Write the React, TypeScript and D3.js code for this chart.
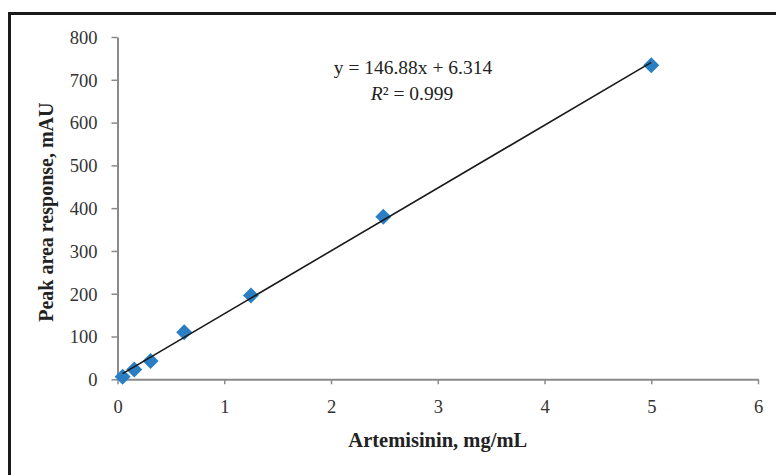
import React, { useEffect, useRef } from 'react';
import * as d3 from 'd3';

// calibration data
const concentrations = [0.048, 0.157, 0.31, 0.625, 1.25, 2.49, 5];
const responses = [6, 23, 43, 110, 196, 380, 734];
const xTicks = [0, 1, 2, 3, 4, 5, 6];
const yTicks = [0, 100, 200, 300, 400, 500, 600, 700, 800];
const slope = 146.88;
const intercept = 6.314;
const equationText = 'y = 146.88x + 6.314';
const r2Text = ' = 0.999';

const FONT = '"Liberation Serif", "Times New Roman", serif';

const CalibrationChart = () => {
  const svgRef = useRef<SVGSVGElement | null>(null);

  useEffect(() => {
    const width = 776;
    const height = 475;
    const svg = d3.select(svgRef.current).attr('width', width).attr('height', height);
    svg.selectAll('*').remove();

    const x = d3.scaleLinear().domain([0, 6]).range([117.5, 758]);
    const y = d3.scaleLinear().domain([0, 800]).range([379.3, 37]);

    // outer frame (runs past the right and bottom edges)
    svg.append('rect')
      .attr('x', 9.5)
      .attr('y', 13.5)
      .attr('width', 820)
      .attr('height', 520)
      .attr('fill', 'white')
      .attr('stroke', '#1a1a1a')
      .attr('stroke-width', 3);

    const axisColor = '#8a8a8a';

    // x axis
    const xAxis = svg.append('g').attr('transform', `translate(0,${y(0)})`)
      .call(d3.axisBottom(x).tickValues(xTicks).tickSize(5).tickSizeOuter(0).tickFormat(d3.format('d')));
    xAxis.select('.domain').attr('stroke', axisColor).attr('stroke-width', 2);
    xAxis.selectAll('.tick line').attr('stroke', axisColor).attr('stroke-width', 1.5);
    xAxis.selectAll('.tick text')
      .attr('y', 34)
      .attr('dy', null)
      .attr('font-family', FONT)
      .attr('font-size', 18.5)
      .attr('fill', '#333');

    // y axis
    const yAxis = svg.append('g').attr('transform', `translate(${x(0)},0)`)
      .call(d3.axisLeft(y).tickValues(yTicks).tickSize(6).tickSizeOuter(0).tickFormat(d3.format('d')));
    yAxis.select('.domain').attr('stroke', axisColor).attr('stroke-width', 2);
    yAxis.selectAll('.tick line').attr('stroke', axisColor).attr('stroke-width', 1.5);
    yAxis.selectAll('.tick text')
      .attr('x', -20)
      .attr('dy', '0.34em')
      .attr('font-family', FONT)
      .attr('font-size', 18.5)
      .attr('fill', '#333');

    // diamond markers
    const diamond = d3.symbol().type(d3.symbolSquare).size(128);
    svg.selectAll('path.point')
      .data(concentrations.map((c, i) => ({ c, r: responses[i] })))
      .enter()
      .append('path')
      .attr('class', 'point')
      .attr('d', diamond)
      .attr('transform', d => `translate(${x(d.c)},${y(d.r)}) rotate(45)`)
      .attr('fill', '#2a7fc4');

    // linear trendline, drawn over the markers
    const xMin = d3.min(concentrations) as number;
    const xMax = d3.max(concentrations) as number;
    svg.append('line')
      .attr('x1', x(xMin))
      .attr('y1', y(slope * xMin + intercept))
      .attr('x2', x(xMax))
      .attr('y2', y(slope * xMax + intercept))
      .attr('stroke', '#1a1a1a')
      .attr('stroke-width', 1.6);

    // equation
    svg.append('text')
      .attr('x', 413)
      .attr('y', 74)
      .attr('text-anchor', 'middle')
      .attr('font-family', FONT)
      .attr('font-size', 19.5)
      .attr('fill', '#222')
      .text(equationText);

    const r2 = svg.append('text')
      .attr('x', 412)
      .attr('y', 100)
      .attr('text-anchor', 'middle')
      .attr('font-family', FONT)
      .attr('font-size', 19.5)
      .attr('fill', '#222');
    r2.append('tspan').attr('font-style', 'italic').text('R');
    r2.append('tspan').text('²' + r2Text);

    // axis titles
    svg.append('text')
      .attr('x', (x(0) + x(6)) / 2)
      .attr('y', 447)
      .attr('text-anchor', 'middle')
      .attr('font-family', FONT)
      .attr('font-weight', 'bold')
      .attr('font-size', 20.5)
      .attr('fill', '#222')
      .text('Artemisinin, mg/mL');

    svg.append('text')
      .attr('transform', `translate(53,${(y(0) + y(800)) / 2 + 4}) rotate(-90)`)
      .attr('text-anchor', 'middle')
      .attr('font-family', FONT)
      .attr('font-weight', 'bold')
      .attr('font-size', 20)
      .attr('fill', '#222')
      .text('Peak area response, mAU');
  }, []);

  return (
    <svg ref={svgRef} style={{ position: 'absolute', left: 0, top: 0, display: 'block' }}></svg>
  );
};

export default function App() {
  return <CalibrationChart />;
}
